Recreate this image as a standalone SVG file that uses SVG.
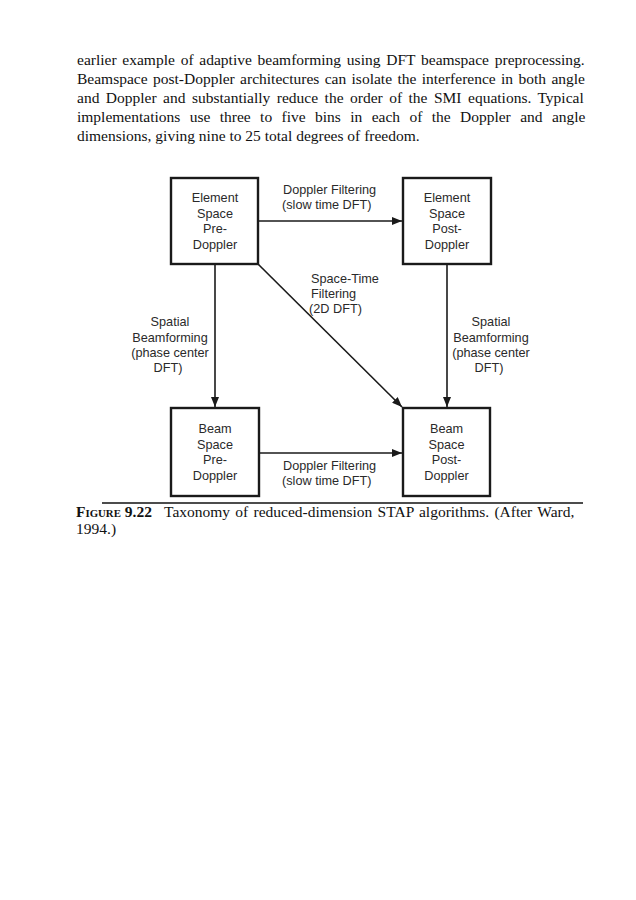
<svg xmlns="http://www.w3.org/2000/svg" width="636" height="900" viewBox="0 0 636 900">
<defs>
<marker id="ah" viewBox="0 0 10 8" refX="10" refY="4" markerWidth="10" markerHeight="8" markerUnits="userSpaceOnUse" orient="auto">
<path d="M0,0 L10,4 L0,8 Z" fill="#1a1a1a"/>
</marker>
<style>
.body{font-family:"Liberation Serif","Times New Roman",serif;font-size:15.5px;fill:#111}
.cap{font-family:"Liberation Serif","Times New Roman",serif;font-size:15.5px;fill:#111}
.lbl{font-family:"Liberation Sans",Arial,sans-serif;font-size:12.7px;fill:#2a2a2a}
.box{fill:#fff;stroke:#1a1a1a;stroke-width:2.4}
.edge{stroke:#1a1a1a;stroke-width:1.6;fill:none;marker-end:url(#ah)}
</style>
</defs>
<rect width="636" height="900" fill="#fff"/>
<g id="paragraph" class="body">
<text x="77" y="65" word-spacing="1.9">earlier example of adaptive beamforming using DFT beamspace preprocessing.</text>
<text x="77" y="84" word-spacing="1.5">Beamspace post-Doppler architectures can isolate the interference in both angle</text>
<text x="77" y="103" word-spacing="2.6">and Doppler and substantially reduce the order of the SMI equations. Typical</text>
<text x="77" y="122" word-spacing="5.5">implementations use three to five bins in each of the Doppler and angle</text>
<text x="77" y="141">dimensions, giving nine to 25 total degrees of freedom.</text>
</g>
<g id="connectors">
<line class="edge" x1="258" y1="221" x2="402" y2="221"/>
<line class="edge" x1="259" y1="453" x2="402" y2="453"/>
<line class="edge" x1="215" y1="264" x2="215" y2="407"/>
<line class="edge" x1="447" y1="264" x2="447" y2="407"/>
<line class="edge" x1="258" y1="264" x2="402" y2="407"/>
</g>
<g id="edge-labels" class="lbl">
<text x="283" y="194">Doppler Filtering</text>
<text x="282" y="209">(slow time DFT)</text>
<text x="311" y="283">Space-Time</text>
<text x="311" y="298">Filtering</text>
<text x="309" y="313">(2D DFT)</text>
<g text-anchor="middle">
<text x="170" y="326">Spatial</text>
<text x="170" y="341.5">Beamforming</text>
<text x="170" y="357">(phase center</text>
<text x="168" y="372">DFT)</text>
<text x="491" y="326">Spatial</text>
<text x="491" y="341.5">Beamforming</text>
<text x="491" y="357">(phase center</text>
<text x="489" y="372">DFT)</text>
</g>
<text x="283" y="470">Doppler Filtering</text>
<text x="282" y="485">(slow time DFT)</text>
</g>
<g id="element-pre" class="lbl" text-anchor="middle">
<rect class="box" x="171" y="178" width="87" height="86"/>
<text x="215" y="202">Element</text>
<text x="215" y="217.5">Space</text>
<text x="215" y="233">Pre-</text>
<text x="215" y="248.5">Doppler</text>
</g>
<g id="element-post" class="lbl" text-anchor="middle">
<rect class="box" x="403" y="178" width="88" height="86"/>
<text x="447" y="202">Element</text>
<text x="447" y="217.5">Space</text>
<text x="447" y="233">Post-</text>
<text x="447" y="248.5">Doppler</text>
</g>
<g id="beam-pre" class="lbl" text-anchor="middle">
<rect class="box" x="171" y="408" width="88" height="88"/>
<text x="215" y="433">Beam</text>
<text x="215" y="448.5">Space</text>
<text x="215" y="464">Pre-</text>
<text x="215" y="479.5">Doppler</text>
</g>
<g id="beam-post" class="lbl" text-anchor="middle">
<rect class="box" x="403" y="408" width="87" height="88"/>
<text x="446.5" y="433">Beam</text>
<text x="446.5" y="448.5">Space</text>
<text x="446.5" y="464">Post-</text>
<text x="446.5" y="479.5">Doppler</text>
</g>
<g id="caption">
<line x1="102" y1="503" x2="583" y2="503" stroke="#111" stroke-width="1.3"/>
<text class="cap" x="76" y="517" font-weight="bold" font-size="15">F<tspan font-size="10.8">IGURE</tspan> 9.22</text>
<text class="cap" x="164" y="517" word-spacing="1.4">Taxonomy of reduced-dimension STAP algorithms. (After Ward,</text>
<text class="cap" x="76" y="534">1994.)</text>
</g>
</svg>
